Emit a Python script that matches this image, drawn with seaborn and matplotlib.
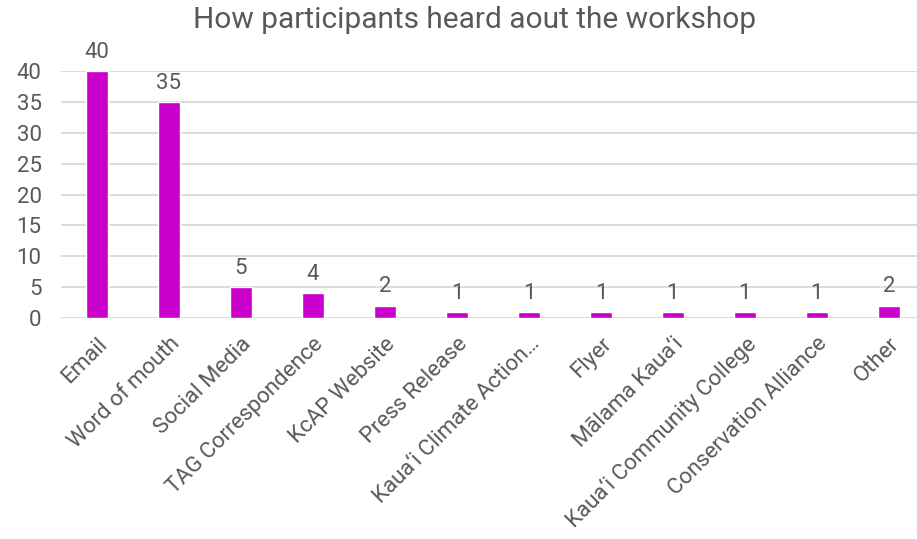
import matplotlib
matplotlib.use("Agg")
import matplotlib.pyplot as plt
import seaborn as sns
import pandas as pd

# Survey responses: how participants heard about the workshop
sources = [
    "Email", "Word of mouth", "Social Media", "TAG Correspondence",
    "KcAP Website", "Press Release", "Kaua\u2018i Climate Action\u2026",
    "Flyer", "M\u0101lama Kaua\u2018i", "Kaua\u2018i Community College",
    "Conservation Alliance", "Other",
]
counts = [40, 35, 5, 4, 2, 1, 1, 1, 1, 1, 1, 2]
yticks = [0, 5, 10, 15, 20, 25, 30, 35, 40]

df = pd.DataFrame({"source": sources, "count": counts})

sns.set_theme(style="white")
plt.rcParams["font.family"] = ["Roboto", "DejaVu Sans"]

text_color = "#595959"
bar_color = "#CC00CC"
grid_color = "#D9D9D9"

fig = plt.figure(figsize=(9.17, 5.39), dpi=100)
ax = fig.add_axes([0.0665, 0.41, 0.9335, 0.458])

sns.barplot(data=df, x="source", y="count", color=bar_color, width=0.3,
            saturation=1, ax=ax, zorder=3)

ax.set_xlim(-0.5, 11.39)
ax.set_ylim(0, 40)
ax.set_yticks(yticks)
ax.set_yticklabels([str(v) for v in yticks], fontsize=16, color=text_color)
ax.yaxis.grid(True, color=grid_color, linewidth=1.3, zorder=0)
ax.set_axisbelow(True)
for s in ax.spines.values():
    s.set_visible(False)
ax.tick_params(axis="both", length=0)
ax.tick_params(axis="y", pad=14)
ax.set_xlabel("")
ax.set_ylabel("")

ax.set_xticks(range(len(sources)))
ax.set_xticklabels(sources, rotation=45, ha="right", rotation_mode="anchor",
                   fontsize=16, color=text_color)
ax.tick_params(axis="x", pad=11)

for c in ax.containers:
    ax.bar_label(c, labels=[str(v) for v in counts], padding=6,
                 fontsize=16, color=text_color, clip_on=False)

fig.text(0.517, 0.962, "How participants heard aout the workshop",
         ha="center", va="center", fontsize=21.5, color=text_color)

fig.savefig("out.png", dpi=100, facecolor="white")
